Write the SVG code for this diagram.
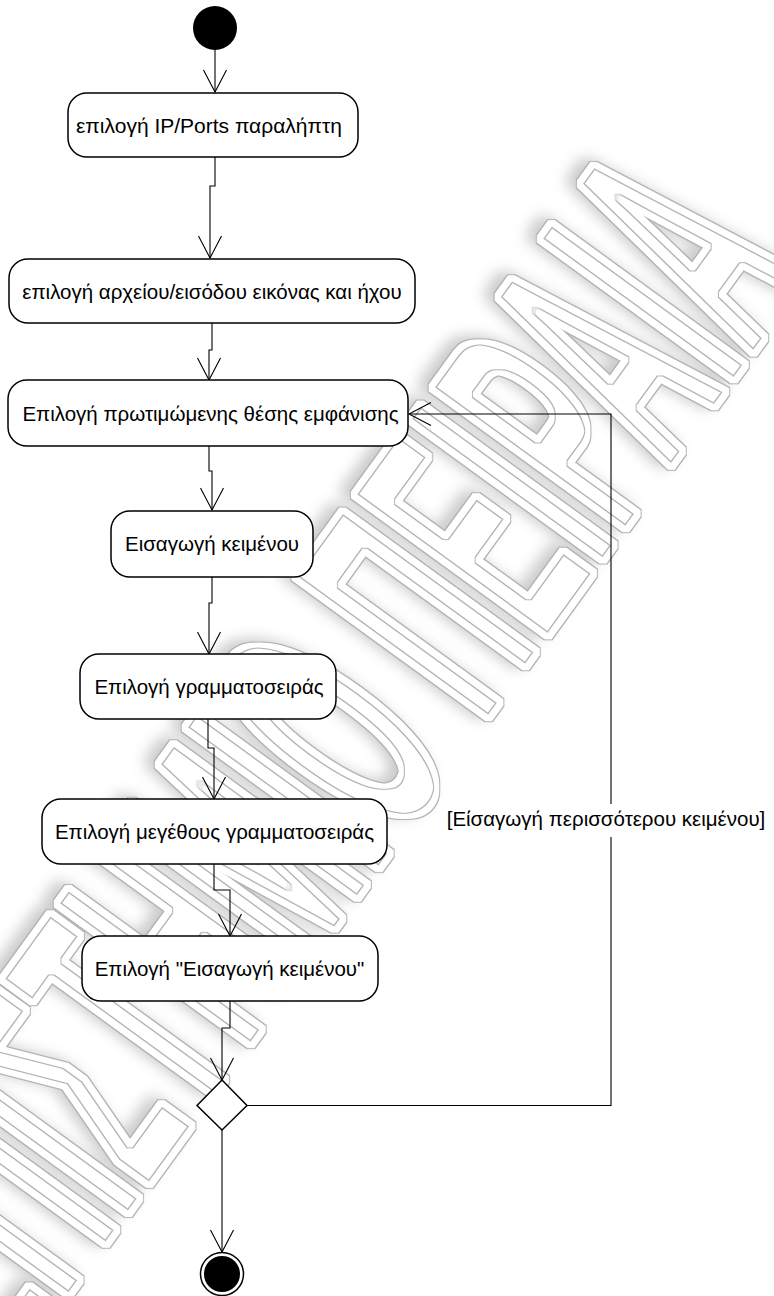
<svg xmlns="http://www.w3.org/2000/svg" width="774" height="1296" viewBox="0 0 774 1296">
  <defs>
    <style>
      .node { fill: #fff; stroke: #000; stroke-width: 1.5; }
      .label { font-family: "Liberation Sans", Arial, "DejaVu Sans", sans-serif; font-size: 20.5px; fill: #000; text-anchor: middle; }
      .flow { fill: none; stroke: #000; stroke-width: 1.1; marker-end: url(#open); }
      .wm { font-family: "Liberation Sans", Arial, sans-serif; font-weight: bold; font-size: 350px; fill: #000; }
    </style>
    <marker id="open" viewBox="-24 -14 26 28" refX="0" refY="0" markerWidth="26" markerHeight="28" markerUnits="userSpaceOnUse" orient="auto">
      <path d="M-22,-11.5 L0,0 L-22,11.5" fill="none" stroke="#000" stroke-width="1.1"/>
    </marker>
    <!-- double grey outline with a soft halo for the background lettering -->
    <filter id="outline2" x="-5%" y="-5%" width="110%" height="110%" color-interpolation-filters="sRGB">
      <feMorphology in="SourceAlpha" operator="dilate" radius="4" result="outA"/>
      <feMorphology in="SourceAlpha" operator="dilate" radius="3" result="outB"/>
      <feComposite in="outA" in2="outB" operator="out" result="ringOut"/>
      <feMorphology in="SourceAlpha" operator="erode" radius="2" result="inA"/>
      <feMorphology in="SourceAlpha" operator="erode" radius="3" result="inB"/>
      <feComposite in="inA" in2="inB" operator="out" result="ringIn"/>
      <feGaussianBlur in="outA" stdDeviation="7" result="soft"/>
      <feOffset in="soft" dx="-9" dy="-3" result="softOff"/>
      <feFlood flood-color="#000" flood-opacity="0.2"/>
      <feComposite in2="softOff" operator="in" result="halo"/>
      <feFlood flood-color="#fff"/>
      <feComposite in2="outB" operator="in" result="body"/>
      <feFlood flood-color="#b4b4b4"/>
      <feComposite in2="ringOut" operator="in" result="g1"/>
      <feFlood flood-color="#b4b4b4"/>
      <feComposite in2="ringIn" operator="in" result="g2"/>
      <feMerge>
        <feMergeNode in="halo"/>
        <feMergeNode in="body"/>
        <feMergeNode in="g1"/>
        <feMergeNode in="g2"/>
      </feMerge>
    </filter>
  </defs>

  <rect x="0" y="0" width="774" height="1296" fill="#fff"/>

  <!-- background lettering -->
  <g id="watermark" filter="url(#outline2)">
    <text class="wm" text-anchor="end" transform="translate(811,275) rotate(-54) scale(0.4,1)">ΠΑΝΕΠΙΣΤΗΜΙΟ ΠΕΙΡΑΙΑ</text>
  </g>

  <!-- transitions -->
  <g id="connectors">
    <path class="flow" d="M215,50 V92"/>
    <path class="flow" d="M215,157 V186 H210 V258"/>
    <path class="flow" d="M212,323 V350 H209 V380"/>
    <path class="flow" d="M209,446 V471 H212 V510"/>
    <path class="flow" d="M212,577 V603 H209 V654"/>
    <path class="flow" d="M208,719 V748 H214 V799"/>
    <path class="flow" d="M214,864 V890 H230 V936"/>
    <path class="flow" d="M230,1001 V1028 H222 V1080"/>
    <path class="flow" d="M222,1130 V1252"/>
    <path class="flow" d="M247,1105.5 H611 V414 H409"/>
  </g>

  <g id="guard">
    <rect x="446" y="804" width="322" height="33" fill="#fff"/>
    <text class="label" x="606" y="826">[Είσαγωγή περισσότερου κειμένου]</text>
  </g>

  <g id="start">
    <circle cx="215" cy="28" r="22" fill="#000"/>
  </g>

  <g id="a1">
    <rect class="node" x="68" y="93" width="290" height="64" rx="19"/>
    <text class="label" x="209" y="133" style="font-size:21px">επιλογή IP/Ports παραλήπτη</text>
  </g>

  <g id="a2">
    <rect class="node" x="9" y="259" width="406" height="64" rx="19"/>
    <text class="label" x="212" y="298.5">επιλογή αρχείου/εισόδου εικόνας και ήχου</text>
  </g>

  <g id="a3">
    <rect class="node" x="8" y="380" width="400" height="66" rx="19"/>
    <text class="label" x="210.5" y="420.5">Επιλογή πρωτιμώμενης θέσης εμφάνισης</text>
  </g>

  <g id="a4">
    <rect class="node" x="111" y="511" width="202" height="66" rx="19"/>
    <text class="label" x="212" y="551">Εισαγωγή κειμένου</text>
  </g>

  <g id="a5">
    <rect class="node" x="80" y="654" width="256" height="65" rx="19"/>
    <text class="label" x="209" y="694">Επιλογή γραμματοσειράς</text>
  </g>

  <g id="a6">
    <rect class="node" x="42" y="799" width="345" height="65" rx="19"/>
    <text class="label" x="214.5" y="839">Επιλογή μεγέθους γραμματοσειράς</text>
  </g>

  <g id="a7">
    <rect class="node" x="82" y="936" width="296" height="65" rx="19"/>
    <text class="label" x="229.5" y="975.5">Επιλογή "Εισαγωγή κειμένου"</text>
  </g>

  <g id="decision">
    <polygon class="node" points="222,1080 247,1105.5 222,1130 197,1105.5"/>
  </g>

  <g id="end">
    <circle cx="222" cy="1274" r="21.5" fill="#fff" stroke="#000" stroke-width="1.5"/>
    <circle cx="222" cy="1274" r="18" fill="#000"/>
  </g>
</svg>
